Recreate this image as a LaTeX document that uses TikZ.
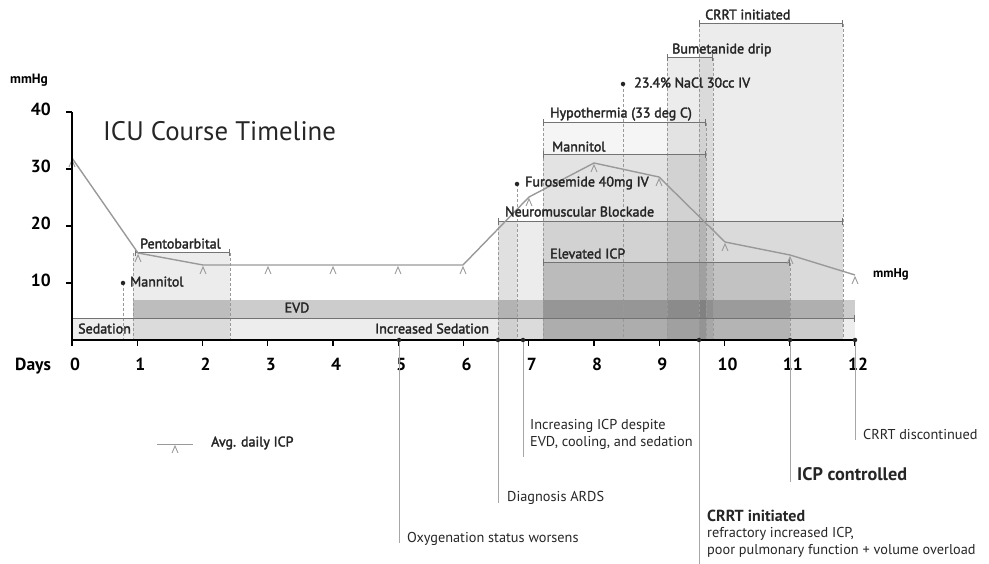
\documentclass[tikz,border=0pt]{standalone}
\usepackage{fontspec}
\setmainfont{PT Sans}
\newfontfamily\semib[FakeBold=2.2]{PT Sans}
\usetikzlibrary{arrows.meta}
\tikzset{
  reg/.style={fill=black,fill opacity=0.075,draw=none},
  dv/.style={draw=black!40,line width=0.7pt,dash pattern=on 3pt off 2pt},
  brk/.style={draw=black!55,line width=1pt,{Bar[width=7pt]}-{Bar[width=7pt]}},
  icpline/.style={draw=black!40,line width=1.4pt,line join=round},
  lbl/.style={font=\semib\fontsize{14}{16}\selectfont,text=black!85,inner sep=0pt,anchor=mid west},
  evl/.style={draw=black!35,line width=0.8pt},
  evt/.style={font=\fontsize{14.3}{17}\selectfont,text=black!85,inner sep=0pt,anchor=mid west,align=left},
  ax/.style={draw=black,line width=1.6pt},
  axl/.style={font=\bfseries\fontsize{17.5}{19}\selectfont,inner sep=0pt},
  evdot/.style={circle,fill=black!85,inner sep=0pt,minimum size=4.5pt},
  mk/.pic={\draw[black!40,line width=0.9pt] (-3,9) -- (0,2) -- (3,9);}
}
\begin{document}
\begin{tikzpicture}[x=1pt,y=-1pt]
\useasboundingbox (0,0) rectangle (989,564);
% ---------- shaded regions
\fill[reg,fill opacity=0.07] (72,319) rectangle (855,340);
\fill[reg,fill opacity=0.2] (133,300) rectangle (855,319);
\fill[reg] (133,253) rectangle (230,340);
\fill[reg] (498,222) rectangle (843,340);
\fill[reg,fill opacity=0.05] (498,222) rectangle (517,340);
\fill[reg,fill opacity=0.04] (543,123) rectangle (706,340);
\fill[reg] (543,155) rectangle (706,340);
\fill[reg,fill opacity=0.11] (543,263) rectangle (790,340);
\fill[reg] (667,58) rectangle (713,340);
\fill[reg] (699,24) rectangle (843,340);
% ---------- dashed guides
\foreach \x/\y in {123/283,133/253,230/253,498/222,517/184,543/123,623/84,667/58,699/24,706/123,713/58,790/263,843/24}
  \draw[dv] (\x,\y) -- (\x,340);
% ---------- brackets
\draw[brk] (135,253) -- (230,253);
\draw[brk] (498,222) -- (843,222);
\draw[brk] (543,263) -- (790,263);
\draw[brk] (543,155) -- (706,155);
\draw[brk] (543,123) -- (706,123);
\draw[brk] (667,58) -- (713,58);
\draw[brk] (699,24) -- (843,24);
\draw[draw=black!55,line width=1pt,-{Bar[width=7pt]}] (72,319) -- (855,319);
% ---------- ICP line
\coordinate (p0) at (72,158);
\coordinate (p1) at (138,253);
\coordinate (p2) at (203,265);
\coordinate (p3) at (268,265);
\coordinate (p4) at (333,265);
\coordinate (p5) at (398,265);
\coordinate (p6) at (463,265);
\coordinate (p7) at (529,197);
\coordinate (p8) at (594,163);
\coordinate (p9) at (659,177);
\coordinate (p10) at (725,242);
\coordinate (p11) at (790,255);
\coordinate (p12) at (855,275);
\draw[icpline] (p0)--(p1)--(p2)--(p3)--(p4)--(p5)--(p6)--(p7)--(p8)--(p9)--(p10)--(p11)--(p12);
\foreach \i in {0,...,12} \pic at (p\i) {mk};
% ---------- point events
\node[evdot] (dm1) at (123,283) {};
\node[evdot] (dfu) at (517,184) {};
\node[evdot] (dna) at (623,84) {};
% ---------- axes
\draw[ax] (72,112) -- (72,340) -- (856,340);
\foreach \y in {112,169,226,283} \draw[line width=1.2pt] (66,\y) -- (72,\y);
\foreach \d in {0,...,12} \draw[line width=1.2pt] ({72+65.25*\d},340) -- ({72+65.25*\d},346);
\node[font=\bfseries\fontsize{13.5}{15}\selectfont,anchor=mid west,inner sep=0pt] (ylab) at (10,81) {mmHg};
\foreach \v/\y in {40/112,30/169,20/226,10/283}
  \node[axl,anchor=mid east] (yv\v) at (51,\y+1) {\v};
\node[axl,anchor=mid west] (days) at (15,368) {Days};
\foreach \d in {0,...,12}
  \node[axl,anchor=mid] (dl\d) at ({75+65.25*\d},368) {\d};
% ---------- title
\node[font=\fontsize{26.8}{30}\selectfont,text=black!85,anchor=base west,inner sep=0pt] (title) at (103,141) {ICU Course Timeline};
% ---------- labels
\node[lbl] (lpento) at (140,246) {Pentobarbital};
\node[lbl] (lman1) at (130,284) {Mannitol};
\node[lbl,anchor=mid] (levd) at (297,310) {EVD};
\node[lbl] (lsed) at (78,331) {Sedation};
\node[lbl] (lised) at (375,331) {Increased Sedation};
\node[lbl] (lnmb) at (505,214) {Neuromuscular Blockade};
\node[lbl] (lelev) at (550,256) {Elevated ICP};
\node[lbl] (lfuro) at (525,184) {Furosemide 40mg IV};
\node[lbl] (lman2) at (552,149) {Mannitol};
\node[lbl] (lhyp) at (550,115) {Hypothermia (33 deg C)};
\node[lbl] (lnacl) at (634,85) {23.4\% NaCl 30cc IV};
\node[lbl] (lbum) at (672,51) {Bumetanide drip};
\node[lbl] (lcrrt) at (705,17) {CRRT initiated};
\node[font=\bfseries\fontsize{12.7}{14}\selectfont,anchor=mid west,inner sep=0pt] (rmm) at (873,275) {mmHg};
% ---------- legend
\coordinate (lg1) at (157,444);
\coordinate (lg2) at (193,444);
\draw[icpline,line width=1pt] (lg1) -- (lg2);
\pic at (175,444) {mk};
\node[lbl] (lgt) at (211,444) {Avg. daily ICP};
% ---------- timeline events
\foreach \n/\x in {e5/399,e65/498,e69/523,e96/699,e11/790,e12/855}
  \node[evdot] (\n) at (\x,340) {};
\coordinate (f5) at (399,543);
\coordinate (f65) at (498,503);
\coordinate (f69) at (523,457);
\coordinate (f96) at (699,564);
\coordinate (f11) at (790,482);
\coordinate (f12) at (855,440);
\draw[evl] (e5) -- (f5);
\draw[evl] (e65) -- (f65);
\draw[evl] (e69) -- (f69);
\draw[evl] (e96) -- (f96);
\draw[evl] (e11) -- (f11);
\draw[evl] (e12) -- (f12);
\node[evt] (t5) at (407,540) {Oxygenation status worsens};
\node[evt] (t65) at (507,499) {Diagnosis ARDS};
\node[evt] (t69) at (530,444) {Increasing ICP despite\\EVD, cooling, and sedation};
\node[evt,font=\bfseries\fontsize{16}{18}\selectfont] (t96) at (707,519) {CRRT initiated};
\node[evt] (t96b) at (707,551.5) {refractory increased ICP,\\poor pulmonary function + volume overload};
\node[evt,font=\bfseries\fontsize{18.2}{20}\selectfont] (t11) at (797,478) {ICP controlled};
\node[evt] (t12) at (863,437) {CRRT discontinued};
\end{tikzpicture}
\end{document}
